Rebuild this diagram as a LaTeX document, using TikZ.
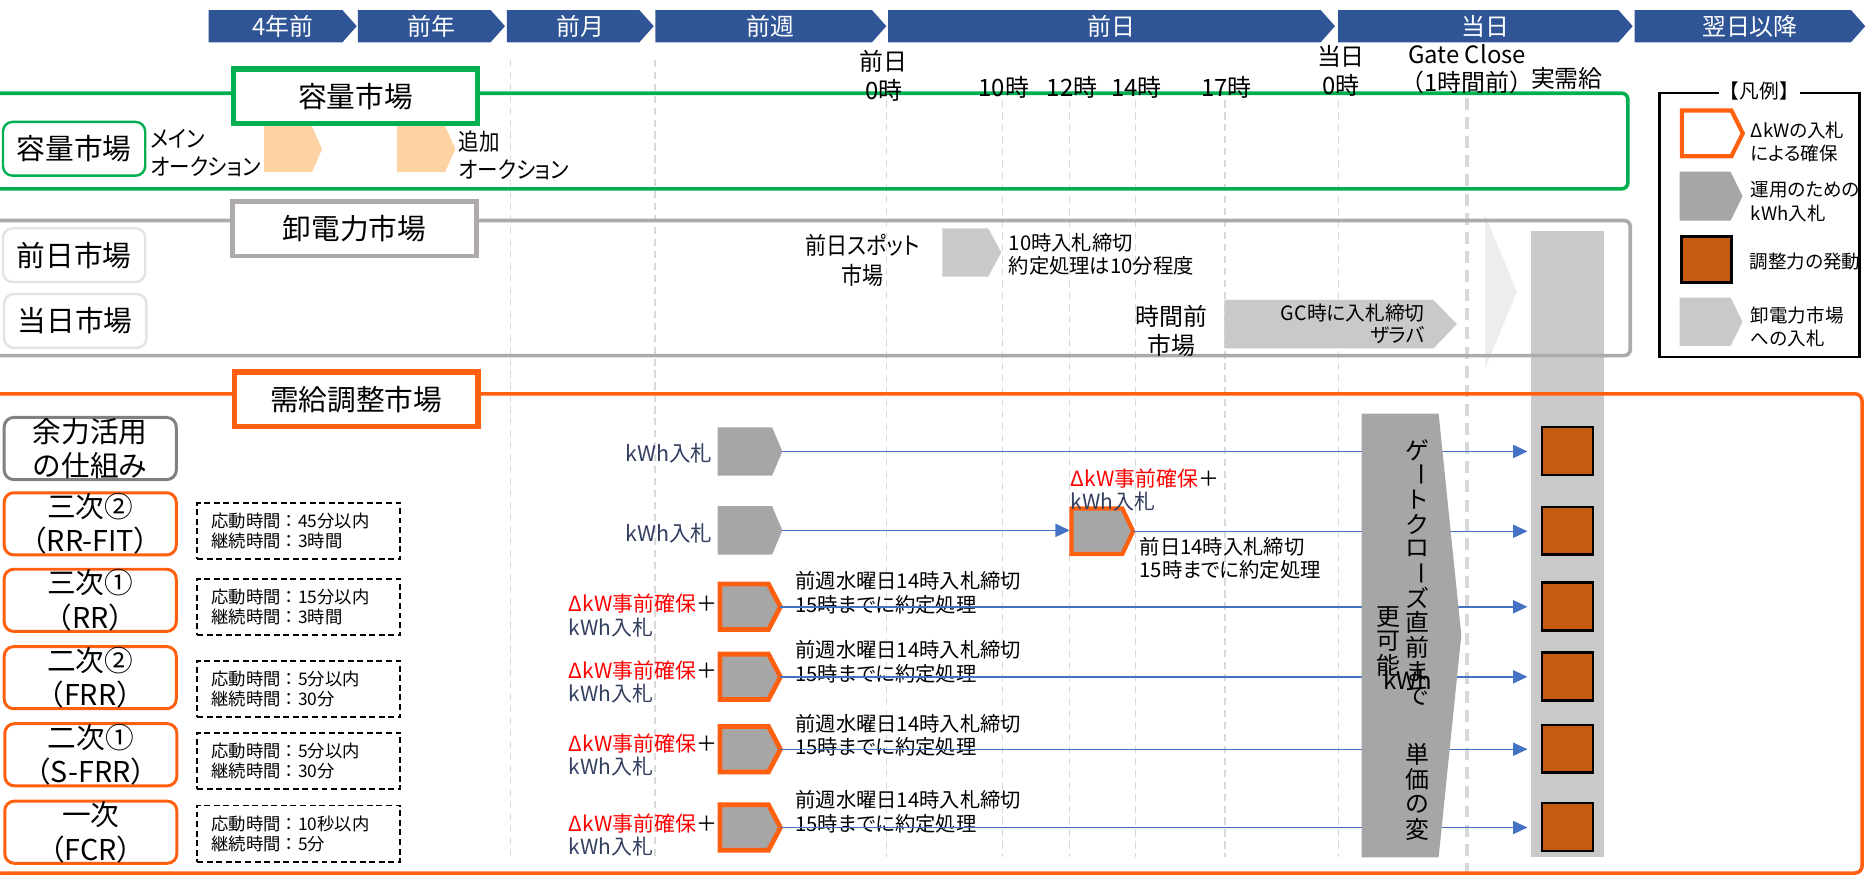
\documentclass[tikz,border=0pt]{standalone}
\usepackage{fontspec}
\setmainfont{Noto Sans CJK JP}
\newfontfamily\pk{Noto Sans CJK JP}[RawFeature=+palt]
\newfontfamily\pkn{Noto Sans CJK JP}[RawFeature=+palt, FakeStretch=0.88]
\usetikzlibrary{arrows.meta}
\definecolor{hblue}{HTML}{2F5597}
\definecolor{cgreen}{HTML}{00B050}
\definecolor{cgray}{HTML}{AEAAAA}
\definecolor{corange}{HTML}{FF6010}
\definecolor{dgray}{HTML}{A6A6A6}
\definecolor{lgray}{HTML}{C9C9C9}
\definecolor{vlgray}{HTML}{EDEDED}
\definecolor{peach}{HTML}{FDD3A4}
\definecolor{sqor}{HTML}{C55A11}
\definecolor{navy}{HTML}{333F5F}
\definecolor{dashg}{HTML}{D9D9D9}
\definecolor{abl}{HTML}{4472C4}
\definecolor{lbord}{HTML}{E3E3E3}
\definecolor{ygray}{HTML}{808080}
\newcommand\fsz[2]{\fontsize{#1}{#2}\selectfont}
\newcommand\mypent[7]{%
  \path[#7] (#2,#3) -- ({#2+#4-#6},#3) -- ({#2+#4},{#3+#5/2}) -- ({#2+#4-#6},{#3+#5}) -- (#2,{#3+#5}) -- cycle;
  \coordinate (#1-w) at (#2,{#3+#5/2});
  \coordinate (#1-e) at ({#2+#4},{#3+#5/2});
  \coordinate (#1-c) at ({#2+#4/2},{#3+#5/2});
}
\tikzset{
  txt/.style={inner sep=0pt, outer sep=0pt},
  hdr/.style={txt, text=white, font=\fsz{20}{22}},
  ttl/.style={draw, line width=4.5pt, fill=white, minimum width=204pt, minimum height=45.5pt, inner sep=0pt, font=\fsz{24}{29}},
  lbl/.style={draw, rounded corners=8pt, line width=2pt, fill=white, minimum width=119pt, minimum height=45pt, align=center, inner sep=0pt, font=\fsz{24}{29}},
  lblb/.style={lbl, line width=2.5pt, minimum width=144pt, minimum height=52pt},
  dbox/.style={draw=black, dash pattern=on 5pt off 3pt, line width=1.5pt, minimum width=170pt, minimum height=47pt, inner sep=0pt, text width=146pt, align=left, font=\fsz{14.5}{17}},
  sqr/.style={draw=black, line width=2pt, fill=sqor, minimum width=43pt, minimum height=40pt, inner sep=0pt},
  flow/.style={draw=abl, line width=1.2pt, -{Triangle[length=12pt,width=11pt]}},
  vdash/.style={draw=dashg, line width=1pt, dash pattern=on 6pt off 4pt},
  tm/.style={txt, font=\fsz{20}{24}, align=center},
  dkw/.style={txt, anchor=west, align=left, font=\pk\fsz{17.5}{19.3}},
  note/.style={txt, anchor=west, align=left, font=\pk\fsz{17}{19.5}},
  vch/.style={txt, font=\fsz{20}{20}},
  lgtext/.style={txt, anchor=west, align=left, font=\pk\fsz{15.5}{19.5}},
  opent/.style={fill=dgray, draw=corange, line width=4pt},
}
\begin{document}
\begin{tikzpicture}[x=1pt,y=-1pt]
\useasboundingbox (0,0) rectangle (1568,735);
\clip (0,0) rectangle (1568,735);
% vertical dashed lines
\foreach \xx in {427,548} {\draw[vdash] (\xx,50) -- (\xx,717);}
\foreach \xx in {742,839,895,950,1025,1120} {\draw[vdash] (\xx,84) -- (\xx,717);}
\draw[draw=dashg, line width=3pt, dash pattern=on 10pt off 6pt] (1227.5,82) -- (1227.5,730);
% light chevron and supply column
\path[fill=vlgray] (1242.7,180) -- (1269.2,244) -- (1242.7,308.2) -- cycle;
\path[fill=lgray] (1281,193.3) rectangle (1342.3,717.4);
% section frames
\draw[cgreen, line width=3pt, rounded corners=5pt] (-20,78) rectangle (1362,158);
\draw[cgray, line width=3pt, rounded corners=5pt] (-20,184.5) rectangle (1364,297.5);
\draw[corange, line width=3pt, rounded corners=6pt] (-20,329.5) rectangle (1558,730.5);
% header
\mypent{h1}{174.6}{8.4}{123.9}{27}{12}{fill=hblue}
\mypent{h2}{299.5}{8.4}{123}{27}{12}{fill=hblue}
\mypent{h3}{424}{8.4}{123}{27}{12}{fill=hblue}
\mypent{h4}{548.4}{8.4}{193.2}{27}{12}{fill=hblue}
\mypent{h5}{743}{8.4}{374}{27}{12}{fill=hblue}
\mypent{h6}{1119.6}{8.4}{246.5}{27}{12}{fill=hblue}
\mypent{h7}{1367.7}{8.4}{193}{27}{12}{fill=hblue}
\node[hdr] (h1t) at (h1-c) {4年前};
\node[hdr] (h2t) at (h2-c) {前年};
\node[hdr] (h3t) at (h3-c) {前月};
\node[hdr] (h4t) at (h4-c) {前週};
\node[hdr] (h5t) at (h5-c) {前日};
\node[hdr] (h6t) at (h6-c) {当日};
\node[hdr] (h7t) at (h7-c) {翌日以降};
% time labels
\node[tm] (tp0) at (739.5,63.5) {前日\\0時};
\node[tm] (t10) at (840,73) {10時};
\node[tm] (t12) at (897,73) {12時};
\node[tm] (t14) at (951,73) {14時};
\node[tm] (t17) at (1026,73) {17時};
\node[tm] (td0) at (1122,59.2) {当日\\0時};
\node[tm, font=\fsz{20}{23.7}] (tgc) at (1227.5,57.8) {Gate Close\\（1時間前）};
\node[tm] (tjj) at (1311,65.5) {実需給};
% capacity market
\node[ttl, draw=cgreen] (tcap) at (297.5,80.5) {容量市場};
\node[lbl, draw=cgreen] (lcap) at (62,124.5) {容量市場};
\node[txt, anchor=west, align=left, font=\pkn\fsz{19.5}{23}] (tmain) at (126,128) {メイン\\オークション};
\mypent{pc1}{221}{105.5}{48.5}{38.5}{8.5}{fill=peach}
\mypent{pc2}{332}{105.5}{49}{38.5}{8.5}{fill=peach}
\node[txt, anchor=west, align=left, font=\pkn\fsz{19.5}{23.5}] (tadd) at (384,130) {追加\\オークション};
% wholesale market
\node[ttl, draw=cgray, line width=4pt] (twhs) at (296.5,191.5) {卸電力市場};
\node[lbl, draw=lbord] (lda) at (62,213.5) {前日市場};
\node[lbl, draw=lbord] (lid) at (63,268.5) {当日市場};
\node[tm, font=\pkn\fsz{20}{25}] (tspot) at (722,217.5) {前日スポット\\市場};
\mypent{ps1}{788.5}{191}{49.3}{40.5}{11}{fill=lgray}
\node[note] (tspotd) at (844,213) {10時入札締切\\約定処理は10分程度};
\node[tm] (tint) at (980,277) {時間前\\市場};
\mypent{pi1}{1024.4}{251}{194.6}{40.5}{19.6}{fill=lgray}
\node[txt, anchor=east, align=right, font=\pk\fsz{16.5}{19}] (tintd) at (1192,271) {GC時に入札締切\\ザラバ};
% legend
\draw[black, line width=2pt] (1388.5,77.6) rectangle (1556,298.5);
\node[txt, fill=white, inner xsep=1pt, font=\fsz{16.5}{16.5}] (lgt) at (1472,76) {【凡例】};
\mypent{g1}{1407.2}{92.4}{51}{38.3}{9.5}{fill=white, draw=corange, line width=3.5pt}
\node[lgtext] (g1t) at (1465,118.5) {ΔkWの入札\\による確保};
\mypent{g2}{1405.4}{143.7}{52.6}{41}{10}{fill=dgray}
\node[lgtext] (g2t) at (1465,168.7) {運用のための\\kWh入札};
\node[sqr, line width=2.5pt, minimum width=42pt, minimum height=38.5pt] (g3) at (1427.5,216.8) {};
\node[lgtext] (g3t) at (1464,219) {調整力の発動};
\mypent{g4}{1405.4}{249}{52.6}{40.5}{10}{fill=lgray}
\node[lgtext] (g4t) at (1465,273.3) {卸電力市場\\への入札};
% balancing market
\node[ttl, draw=corange] (tbal) at (298,334) {需給調整市場};
\node[lblb, draw=ygray] (l0) at (75.5,375.3) {余力活用\\の仕組み};
\node[lblb, draw=corange] (l1) at (75.5,438.3) {三次②\\（RR-FIT）};
\node[lblb, draw=corange] (l2) at (75.5,502.3) {三次①\\（RR）};
\node[lblb, draw=corange] (l3) at (75.5,567) {二次②\\（FRR）};
\node[lblb, draw=corange] (l4) at (76,631.5) {二次①\\（S-FRR）};
\node[lblb, draw=corange] (l5) at (76,696.3) {一次\\（FCR）};
\node[dbox] (d1) at (250,444.5) {応動時間：45分以内\\継続時間：3時間};
\node[dbox] (d2) at (250,508) {応動時間：15分以内\\継続時間：3時間};
\node[dbox] (d3) at (250,576.5) {応動時間：5分以内\\継続時間：30分};
\node[dbox] (d4) at (250,636.5) {応動時間：5分以内\\継続時間：30分};
\node[dbox] (d5) at (250,697.5) {応動時間：10秒以内\\継続時間：5分};
% squares
\node[sqr] (s1) at (1311.5,377.5) {};
\node[sqr] (s2) at (1311.5,444) {};
\node[sqr] (s3) at (1311.5,507.5) {};
\node[sqr] (s4) at (1311.5,566) {};
\node[sqr] (s5) at (1311.5,626.5) {};
\node[sqr] (s6) at (1311.5,692) {};
% row 1
\mypent{r1}{600.5}{357.5}{54.1}{40.5}{8.6}{fill=dgray}
\node[txt, anchor=east, text=navy, font=\fsz{18}{21}] (k1) at (596,379) {kWh入札};
% row 2
\mypent{r2}{600.5}{423.5}{54.1}{40.5}{8.6}{fill=dgray}
\node[txt, anchor=east, text=navy, font=\fsz{18}{21}] (k2) at (596,446) {kWh入札};
\mypent{r2b}{896.6}{425.5}{51.5}{38}{9}{opent, line width=3.5pt}
\node[dkw] (k2b) at (896,409.8) {\textcolor{red}{ΔkW事前確保}＋\\\textcolor{navy}{kWh入札}};
\node[note] (k2c) at (953.6,467.2) {前日14時入札締切\\15時までに約定処理};
% rows 3-6
\mypent{r3}{602.5}{488.7}{50.5}{38}{10}{opent}
\mypent{r4}{602.5}{547.3}{50.5}{38}{10}{opent}
\mypent{r5}{602.5}{607.9}{50.5}{38}{10}{opent}
\mypent{r6}{602.5}{673.4}{50.5}{38}{10}{opent}
\node[dkw] (k3) at (476,515) {\textcolor{red}{ΔkW事前確保}＋\\\textcolor{navy}{kWh入札}};
\node[dkw] (k4) at (476,570.4) {\textcolor{red}{ΔkW事前確保}＋\\\textcolor{navy}{kWh入札}};
\node[dkw] (k5) at (476,631.5) {\textcolor{red}{ΔkW事前確保}＋\\\textcolor{navy}{kWh入札}};
\node[dkw] (k6) at (476,698.5) {\textcolor{red}{ΔkW事前確保}＋\\\textcolor{navy}{kWh入札}};
\node[note] (n3) at (665.5,496.1) {前週水曜日14時入札締切\\15時までに約定処理};
\node[note] (n4) at (665.5,553.7) {前週水曜日14時入札締切\\15時までに約定処理};
\node[note] (n5) at (665.5,615) {前週水曜日14時入札締切\\15時までに約定処理};
\node[note] (n6) at (665.5,679.3) {前週水曜日14時入札締切\\15時までに約定処理};
% flows
\draw[flow, shorten >=11pt] (r1-e) -- (r1-e -| s1.west);
\draw[flow, shorten >=1.5pt] (r2-e) -- (r2-e -| r2b-w);
\draw[flow, shorten >=11pt] (r2b-e) -- (r2b-e -| s2.west);
\draw[flow, shorten >=11pt] (r3-e) -- (r3-e -| s3.west);
\draw[flow, shorten >=11pt] (r4-e) -- (r4-e -| s4.west);
\draw[flow, shorten >=11pt] (r5-e) -- (r5-e -| s5.west);
\draw[flow, shorten >=11pt] (r6-e) -- (r6-e -| s6.west);
% gate close arrow
\path[fill=dgray] (1139.3,346) -- (1203.7,346) -- (1222.7,531.4) -- (1203.7,717.4) -- (1139.3,717.4) -- cycle;
\node[vch] (v1) at (1186,376.6) {ゲ};
\node[vch, rotate=-90] (v2) at (1186,397.2) {ー};
\node[vch] (v3) at (1186,417.8) {ト};
\node[vch] (v4) at (1186,438.4) {ク};
\node[vch] (v5) at (1186,459) {ロ};
\node[vch, rotate=-90] (v6) at (1186,479.6) {ー};
\node[vch] (v7) at (1186,500.2) {ズ};
\node[vch] (v8) at (1186,520.8) {直};
\node[vch] (v9) at (1186,541.4) {前};
\node[vch] (v10) at (1186,562) {ま};
\node[vch] (v11) at (1186,582.6) {で};
\node[vch] (v12) at (1186,631) {単};
\node[vch] (v13) at (1186,652) {価};
\node[vch] (v14) at (1186,673) {の};
\node[vch] (v15) at (1186,694) {変};
\node[vch] (v16) at (1161.6,516) {更};
\node[vch] (v17) at (1161.6,536.5) {可};
\node[vch] (v18) at (1161.6,557) {能};
\node[vch] (v19) at (1178,569) {kWh};
\end{tikzpicture}
\end{document}
